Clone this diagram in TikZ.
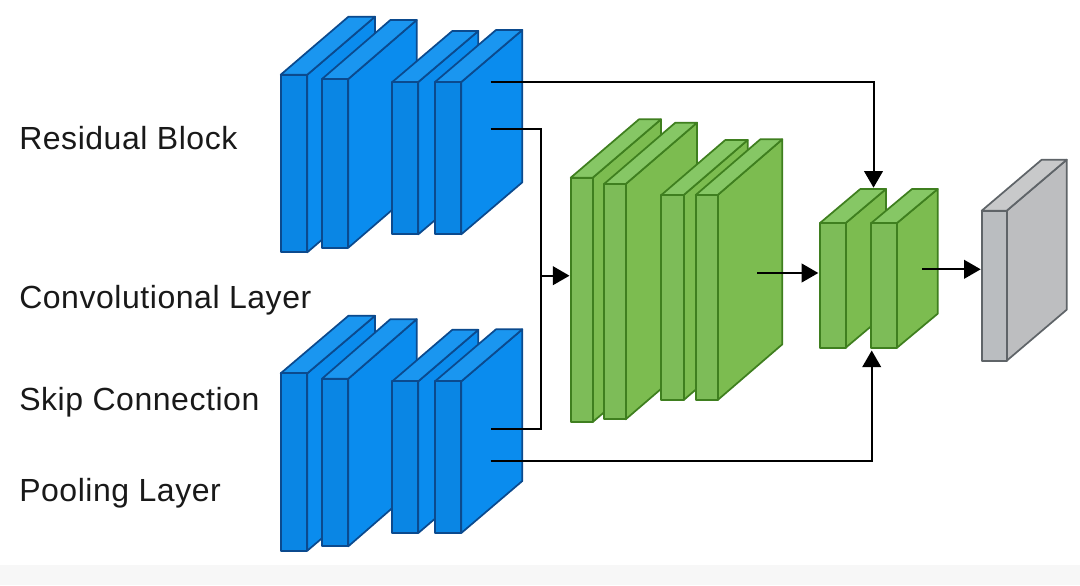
\documentclass[tikz,border=0pt]{standalone}
\usepackage{fontspec}
\setmainfont[LetterSpace=1.7]{Liberation Sans}
\usetikzlibrary{arrows.meta}
\definecolor{bluefront}{HTML}{0A86E4}
\definecolor{blueside}{HTML}{0A8CEE}
\definecolor{bluetop}{HTML}{1A96F0}
\definecolor{blueedge}{HTML}{0B4A8E}
\definecolor{greenfront}{HTML}{7DBC58}
\definecolor{greenside}{HTML}{7CBC50}
\definecolor{greentop}{HTML}{86C765}
\definecolor{greenedge}{HTML}{3F7F1F}
\definecolor{grayfront}{HTML}{BABDC0}
\definecolor{grayside}{HTML}{BDBEC0}
\definecolor{graytop}{HTML}{C8C9CA}
\definecolor{grayedge}{HTML}{5F6468}
\tikzset{
  x=0.75pt,y=-0.75pt,
  conn/.style={draw=black,line width=1.5pt},
  arrowed/.style={conn,-{Triangle[length=12.5pt,width=14pt]}},
  lab/.style={anchor=base west,inner sep=0pt,font=\fontsize{24pt}{28pt}\selectfont,text=black!90},
}
% #1 palette, #2 x0, #3 x1, #4 ytop, #5 ybottom, #6 dx, #7 dy
\newcommand{\slabdraw}[7]{%
  \fill[#1side,draw=#1edge,line width=1.3pt,line join=round] (#3,#4)--(#3+#6,#4-#7)--(#3+#6,#5-#7)--(#3,#5)--cycle;
  \fill[#1top,draw=#1edge,line width=1.3pt,line join=round] (#2,#4)--(#3,#4)--(#3+#6,#4-#7)--(#2+#6,#4-#7)--cycle;
  \fill[#1front,draw=#1edge,line width=1.3pt,line join=round] (#2,#4) rectangle (#3,#5);
}
\begin{document}
\begin{tikzpicture}
\useasboundingbox (0,0) rectangle (1080,585);
\fill[white] (0,0) rectangle (1080,585);
\fill[black!3] (0,565) rectangle (1080,585);
% upper blue block
\slabdraw{blue}{280.7}{307.3}{74.7}{252.3}{67.7}{58}
\slabdraw{blue}{322}{348.3}{79}{247.7}{68.4}{59}
\slabdraw{blue}{392.3}{418.3}{82}{234.3}{60}{51}
\slabdraw{blue}{435}{461.3}{82}{234.3}{61}{52}
% lower blue block
\slabdraw{blue}{280.7}{307.3}{373.3}{550.7}{67.7}{57.5}
\slabdraw{blue}{322}{348.3}{378.7}{546.3}{68.4}{59.5}
\slabdraw{blue}{392.3}{418.3}{381.3}{533}{60}{51.5}
\slabdraw{blue}{435}{461.3}{381.3}{533}{61}{52}
% large green block
\slabdraw{green}{570.7}{592.7}{177.7}{422}{68.3}{58.4}
\slabdraw{green}{604}{625.7}{184}{419.3}{71.3}{61.3}
\slabdraw{green}{661.3}{683.7}{195}{400}{64}{55}
\slabdraw{green}{695.7}{717.7}{195}{400}{64.6}{55.7}
% small green block
\slabdraw{green}{820}{845.7}{223}{347.7}{40.3}{34}
\slabdraw{green}{871.3}{897}{223}{347.7}{40.7}{34}
% output
\slabdraw{gray}{981.7}{1006.7}{210.7}{360.7}{60}{51}
% connector ends
\coordinate (upA) at (490.7,81.7);
\coordinate (upB) at (490.7,128.7);
\coordinate (loA) at (490.7,429.3);
\coordinate (loB) at (490.7,461.3);
\coordinate (bus) at (541,275.7);
\coordinate (bigIn) at (569.5,275.7);
\coordinate (bigOut) at (757.3,273);
\coordinate (smallIn) at (818.3,273);
\coordinate (smallTop) at (873.5,187.7);
\coordinate (smallBot) at (871.7,350.5);
\coordinate (smallOut) at (922.3,269.3);
\coordinate (grayIn) at (980.7,269.3);
\draw[arrowed] (upA) -| (smallTop);
\draw[arrowed] (loB) -| (smallBot);
\draw[conn,line join=miter] (upB) -| (bus) |- (loA);
\draw[arrowed] (bus) -- (bigIn);
\draw[arrowed] (bigOut) -- (smallIn);
\draw[arrowed] (smallOut) -- (grayIn);
% labels
\node[lab] (l1) at (19,149) {Residual Block};
\node[lab] (l2) at (19,308) {Convolutional Layer};
\node[lab] (l3) at (19,410) {Skip Connection};
\node[lab] (l4) at (19,501) {Pooling Layer};
\end{tikzpicture}
\end{document}
